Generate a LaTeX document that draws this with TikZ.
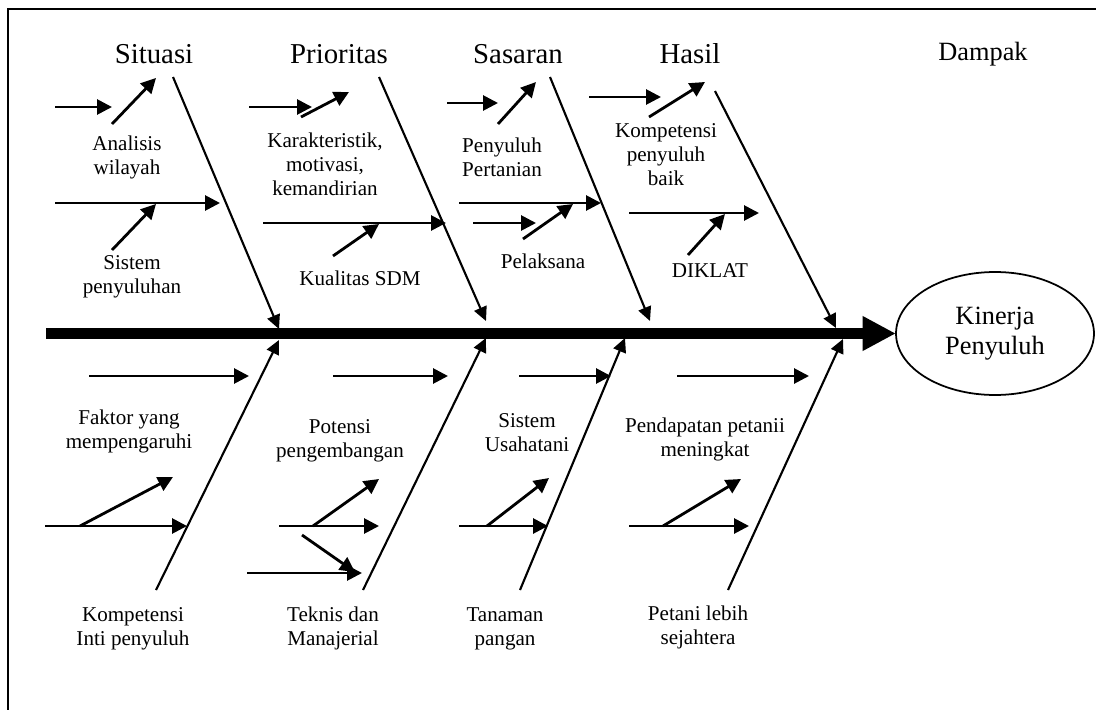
\documentclass[tikz,border=0pt]{standalone}
\usepackage{fontspec}
\setmainfont{Liberation Serif}
\usetikzlibrary{arrows.meta}
\usetikzlibrary{shapes.geometric}

\tikzset{
	twig/.style={line width=1.6pt, -{Triangle[length=8.5pt,width=8.5pt]}},
	bone/.style={line width=1.2pt, -{Triangle[length=8pt,width=7.5pt]}},
	spine/.style={line width=6.8pt, -{Triangle[length=18.5pt,width=20pt,line width=0pt]}},
	heading/.style={anchor=base, inner sep=0pt, font=\fontsize{16.4}{19}\selectfont},
	causetext/.style={align=center, anchor=base, inner sep=0pt, font=\fontsize{12}{13.6}\selectfont}
}

\begin{document}
\begin{tikzpicture}[x=0.02cm, y=-0.02cm]
		\useasboundingbox (0,0) rectangle (1096,710);
		\draw[line width=1.1pt] (8,710) -- (8,9) -- (1096,9);

		% headings
		\node[heading] (Situasi) at (154,63) {Situasi};
		\node[heading] (Prioritas) at (339,63) {Prioritas};
		\node[heading] (Sasaran) at (518,63) {Sasaran};
		\node[heading] (Hasil) at (690,63) {Hasil};
		\node[heading, font=\fontsize{15}{18}\selectfont] (Dampak) at (983,60) {Dampak};

		% effect
		\node[draw, ellipse, line width=1pt, inner sep=0pt, minimum width=3.96cm, minimum height=2.46cm,
			align=center, font=\fontsize{15}{17}\selectfont] (Kinerja) at (995,333.5) {Kinerja\\Penyuluh};
		\coordinate (Tail) at (46,333.5);
		\draw[spine] (Tail) -- (Kinerja.west);

		% main bones
		\foreach \n/\xa/\ya/\xb/\yb in {u1/173/77/279/329, u2/379/77/486/321, u3/550/77/650/321, u4/715/91/836/328,
			l1/156/590/279/340, l2/363/590/486/338, l3/520/590/625/338, l4/728/590/843/339}
		{
			\coordinate (\n-s) at (\xa,\ya);
			\coordinate (\n-e) at (\xb,\yb);
			\draw[bone] (\n-s) -- (\n-e);
		}

		% small arrows
		\foreach \n/\xa/\ya/\xb/\yb in {a1/55/107/112/107, a2/112/124/156/78, a3/55/203/220/203, a4/112/250/156/204,
			b1/249/107/312/107, b2/301/117/349/92, b3/263/223/446/223, b4/333/256/379/224,
			c1/447/103/498/103, c2/498/124/536/82, c3/459/203/601/203, c4/473/223/536/223, c5/523/239/573/204,
			d1/589/97/661/97, d2/649/117/705/82, d3/629/213/759/213, d4/688/255/725/214,
			e1/89/376/249/376, e2/45/526/187/526, e3/80/526/173/477,
			f1/333/376/448/376, f2/279/526/379/526, f3/313/526/379/479, f4/302/535/355/572, f5/247/573/362/573,
			g1/519/376/611/376, g2/459/526/548/526, g3/487/526/549/478,
			h1/677/376/809/376, h2/629/526/749/526, h3/663/526/741/479}
		{
			\coordinate (\n-s) at (\xa,\ya);
			\coordinate (\n-e) at (\xb,\yb);
			\draw[twig] (\n-s) -- (\n-e);
		}

		% causes (placed on the baseline of the last line)
		\node[causetext] (AnalisisWilayah) at (127,174) {Analisis\\wilayah};
		\node[causetext] (SistemPenyuluhan) at (132,293) {Sistem\\penyuluhan};
		\node[causetext] (Karakteristik) at (325,195) {Karakteristik,\\motivasi,\\kemandirian};
		\node[causetext] (KualitasSDM) at (360,285) {Kualitas SDM};
		\node[causetext] (PenyuluhPertanian) at (502,176) {Penyuluh\\Pertanian};
		\node[causetext] (Pelaksana) at (543,268) {Pelaksana};
		\node[causetext] (KompetensiBaik) at (666,185) {Kompetensi\\penyuluh\\baik};
		\node[causetext] (Diklat) at (710,277) {DIKLAT};
		\node[causetext] (Faktor) at (129,448) {Faktor yang\\mempengaruhi};
		\node[causetext] (KompetensiInti) at (133,645) {Kompetensi\\Inti penyuluh};
		\node[causetext] (Potensi) at (340,457) {Potensi\\pengembangan};
		\node[causetext] (Teknis) at (333,645) {Teknis dan\\Manajerial};
		\node[causetext] (SistemUsahatani) at (527,451) {Sistem\\Usahatani};
		\node[causetext] (Tanaman) at (505,645) {Tanaman\\pangan};
		\node[causetext] (Pendapatan) at (705,456) {Pendapatan petanii\\meningkat};
		\node[causetext] (PetaniSejahtera) at (698,644) {Petani lebih\\sejahtera};
	\end{tikzpicture}
\end{document}
